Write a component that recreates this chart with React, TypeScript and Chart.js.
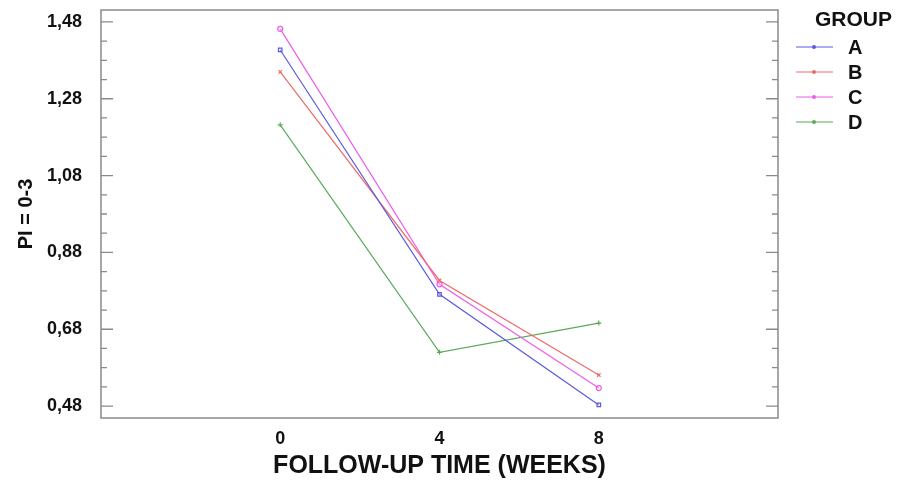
import React, { useEffect, useRef } from "react";
import { Chart, registerables } from "chart.js";

Chart.register(...registerables);

const weeks = [0, 4, 8];
const groupLabels = ["A", "B", "C", "D"];
const seriesA = [1.407, 0.771, 0.483];
const seriesB = [1.35, 0.807, 0.561];
const seriesC = [1.462, 0.797, 0.527];
const seriesD = [1.212, 0.62, 0.696];
const colors = ["#5a5ae0", "#ee6a6a", "#ee5cee", "#5aaa5a"];
const markers = ["rect", "crossRot", "circle", "cross"];
const yMajorTicks = [0.48, 0.68, 0.88, 1.08, 1.28, 1.48];
const yMinorTicks = [0.53, 0.58, 0.63, 0.73, 0.78, 0.83, 0.93, 0.98, 1.03, 1.13, 1.18, 1.23, 1.33, 1.38, 1.43];
const legendTitle = "GROUP";
const xTitle = "FOLLOW-UP TIME (WEEKS)";
const yTitle = "PI = 0-3";

const FONT = "'Liberation Sans', Arial, sans-serif";

const framePlugin = {
  id: "framePlugin",
  afterDatasetsDraw(chart: any) {
    const { ctx, chartArea } = chart;
    const y = chart.scales.y;
    const { left, right, top, bottom } = chartArea;
    ctx.save();
    ctx.strokeStyle = "#8a8a8a";
    ctx.lineWidth = 1.5;
    ctx.strokeRect(left, top, right - left, bottom - top);
    ctx.lineWidth = 1.3;
    const drawTick = (v: number, len: number) => {
      const py = y.getPixelForValue(v);
      ctx.beginPath();
      ctx.moveTo(left, py);
      ctx.lineTo(left + len, py);
      ctx.moveTo(right, py);
      ctx.lineTo(right - len, py);
      ctx.stroke();
    };
    yMajorTicks.forEach((v) => drawTick(v, 12));
    yMinorTicks.forEach((v) => drawTick(v, 6));
    ctx.restore();
  },
  afterDraw(chart: any) {
    const { ctx } = chart;
    ctx.save();
    ctx.fillStyle = "#111";
    ctx.font = `bold 21px ${FONT}`;
    ctx.textBaseline = "middle";
    ctx.textAlign = "left";
    ctx.fillText(legendTitle, 815, 20);
    chart.data.datasets.forEach((ds: any, i: number) => {
      const yy = 47 + i * 25;
      ctx.strokeStyle = ds.borderColor;
      ctx.lineWidth = 1.2;
      ctx.beginPath();
      ctx.moveTo(796, yy);
      ctx.lineTo(833, yy);
      ctx.stroke();
      ctx.fillStyle = ds.borderColor;
      ctx.beginPath();
      ctx.arc(814, yy, 2, 0, Math.PI * 2);
      ctx.fill();
      ctx.fillStyle = "#111";
      ctx.font = `bold 20px ${FONT}`;
      ctx.fillText(ds.label, 848, yy + 1);
    });
    ctx.restore();
  },
};

export default function App() {
  const ref = useRef<HTMLCanvasElement>(null);
  useEffect(() => {
    document.body.style.margin = "0";
    const datasets = [seriesA, seriesB, seriesC, seriesD].map((s, i) => ({
      label: groupLabels[i],
      data: s.map((v, j) => ({ x: weeks[j], y: v })),
      borderColor: colors[i],
      backgroundColor: colors[i],
      borderWidth: 1.2,
      pointStyle: markers[i],
      pointRadius: 2.5,
      pointBorderWidth: 1.2,
      pointBackgroundColor: "rgba(255,255,255,0.3)",
      tension: 0,
    }));
    const chart = new Chart(ref.current!, {
      type: "line",
      data: { datasets },
      options: {
        animation: false,
        responsive: false,
        layout: { padding: { left: 0, top: 10, right: 134, bottom: 0 } },
        plugins: { legend: { display: false }, tooltip: { enabled: false } },
        scales: {
          x: {
            type: "linear",
            min: -4.5,
            max: 12.5,
            afterBuildTicks: (scale: any) => {
              scale.ticks = weeks.map((v) => ({ value: v }));
            },
            afterFit: (scale: any) => {
              scale.height = 63;
              scale.paddingLeft = 0;
              scale.paddingRight = 0;
            },
            grid: { display: false, drawTicks: false },
            border: { display: false },
            ticks: {
              padding: 10,
              color: "#111",
              font: { family: FONT, size: 18, weight: "bold" },
              callback: (v: any) => String(v),
            },
            title: {
              display: true,
              text: xTitle,
              color: "#111",
              font: { family: FONT, size: 25, weight: "bold" },
              padding: { top: 0, bottom: 0 },
            },
          },
          y: {
            type: "linear",
            min: 0.449,
            max: 1.511,
            afterBuildTicks: (scale: any) => {
              scale.ticks = yMajorTicks.map((v) => ({ value: v }));
            },
            afterFit: (scale: any) => {
              scale.width = 101;
              scale.paddingTop = 0;
              scale.paddingBottom = 0;
            },
            grid: { display: false, drawTicks: false },
            border: { display: false },
            ticks: {
              padding: 19,
              color: "#111",
              font: { family: FONT, size: 18, weight: "bold" },
              callback: (v: any) => Number(v).toFixed(2).replace(".", ","),
            },
            title: {
              display: true,
              text: yTitle,
              color: "#111",
              font: { family: FONT, size: 20, weight: "bold" },
              padding: { top: 14, bottom: 0 },
            },
          },
        },
      },
      plugins: [framePlugin],
    });
    return () => chart.destroy();
  }, []);
  return (
    <div style={{ position: "absolute", left: 0, top: 0, width: 912, height: 481, background: "#fff" }}>
      <canvas ref={ref} width={912} height={481} />
    </div>
  );
}
